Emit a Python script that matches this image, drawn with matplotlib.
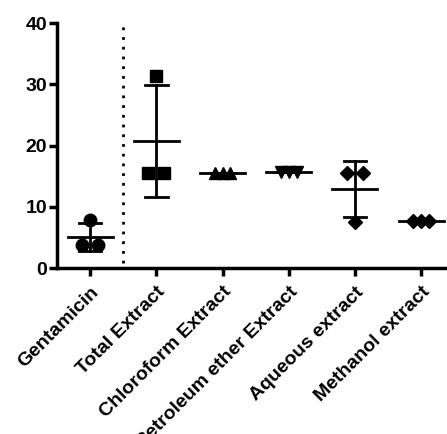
import matplotlib
matplotlib.use('Agg')
import matplotlib.pyplot as plt
import numpy as np

plt.rcParams['font.family'] = ['Liberation Sans', 'DejaVu Sans']
plt.rcParams['font.weight'] = 'bold'

groups = ['Gentamicin', 'Total Extract', 'Chloroform Extract',
          'Petroleum ether Extract', 'Aqueous extract', 'Methanol extract']
values = [
    [3.8, 7.8, 3.8],
    [15.5, 31.3, 15.5],
    [15.5, 15.5, 15.5],
    [15.7, 15.7, 15.7],
    [15.6, 7.6, 15.6],
    [7.7, 7.7, 7.7],
]
markers = ['o', 's', '^', 'v', 'D', 'D']
msizes = [9, 9, 9, 9, 7, 7]
offsets = [-0.12, 0.0, 0.12]

fig = plt.figure(figsize=(4.47, 4.34), dpi=100)
ax = fig.add_axes([0.1275, 0.382, 0.8725, 0.565])

for i, vals in enumerate(values):
    v = np.array(vals)
    m, sd = v.mean(), v.std(ddof=1)
    ax.plot([i + o for o in offsets], v, linestyle='none', marker=markers[i],
            ms=msizes[i], color='black', zorder=3)
    ax.plot([i - 0.34, i + 0.34], [m, m], color='black', lw=2, zorder=4)
    ax.plot([i, i], [m - sd, m + sd], color='black', lw=2, zorder=4)
    for y in (m - sd, m + sd):
        ax.plot([i - 0.17, i + 0.17], [y, y], color='black', lw=2, zorder=4)

ax.axvline(0.5, ymin=0.02, ymax=1.0, color='black', ls=(0, (1, 2.5)), lw=2)

ax.set_xlim(-0.5, 5.39)
ax.set_ylim(0, 40)
ax.set_yticks([0, 10, 20, 30, 40])
ax.set_xticks(range(len(groups)))
ax.set_xticklabels(groups, rotation=45, ha='right', rotation_mode='anchor',
                   fontsize=14, fontweight='bold')
ax.tick_params(axis='y', labelsize=14, width=2.5, length=6, pad=1)
ax.tick_params(axis='x', width=2.5, length=6, pad=5)
for lab in ax.get_yticklabels():
    lab.set_fontweight('bold')
for s in ['top', 'right']:
    ax.spines[s].set_visible(False)
for s in ['left', 'bottom']:
    ax.spines[s].set_linewidth(2.5)

fig.savefig('out.png', dpi=100)
